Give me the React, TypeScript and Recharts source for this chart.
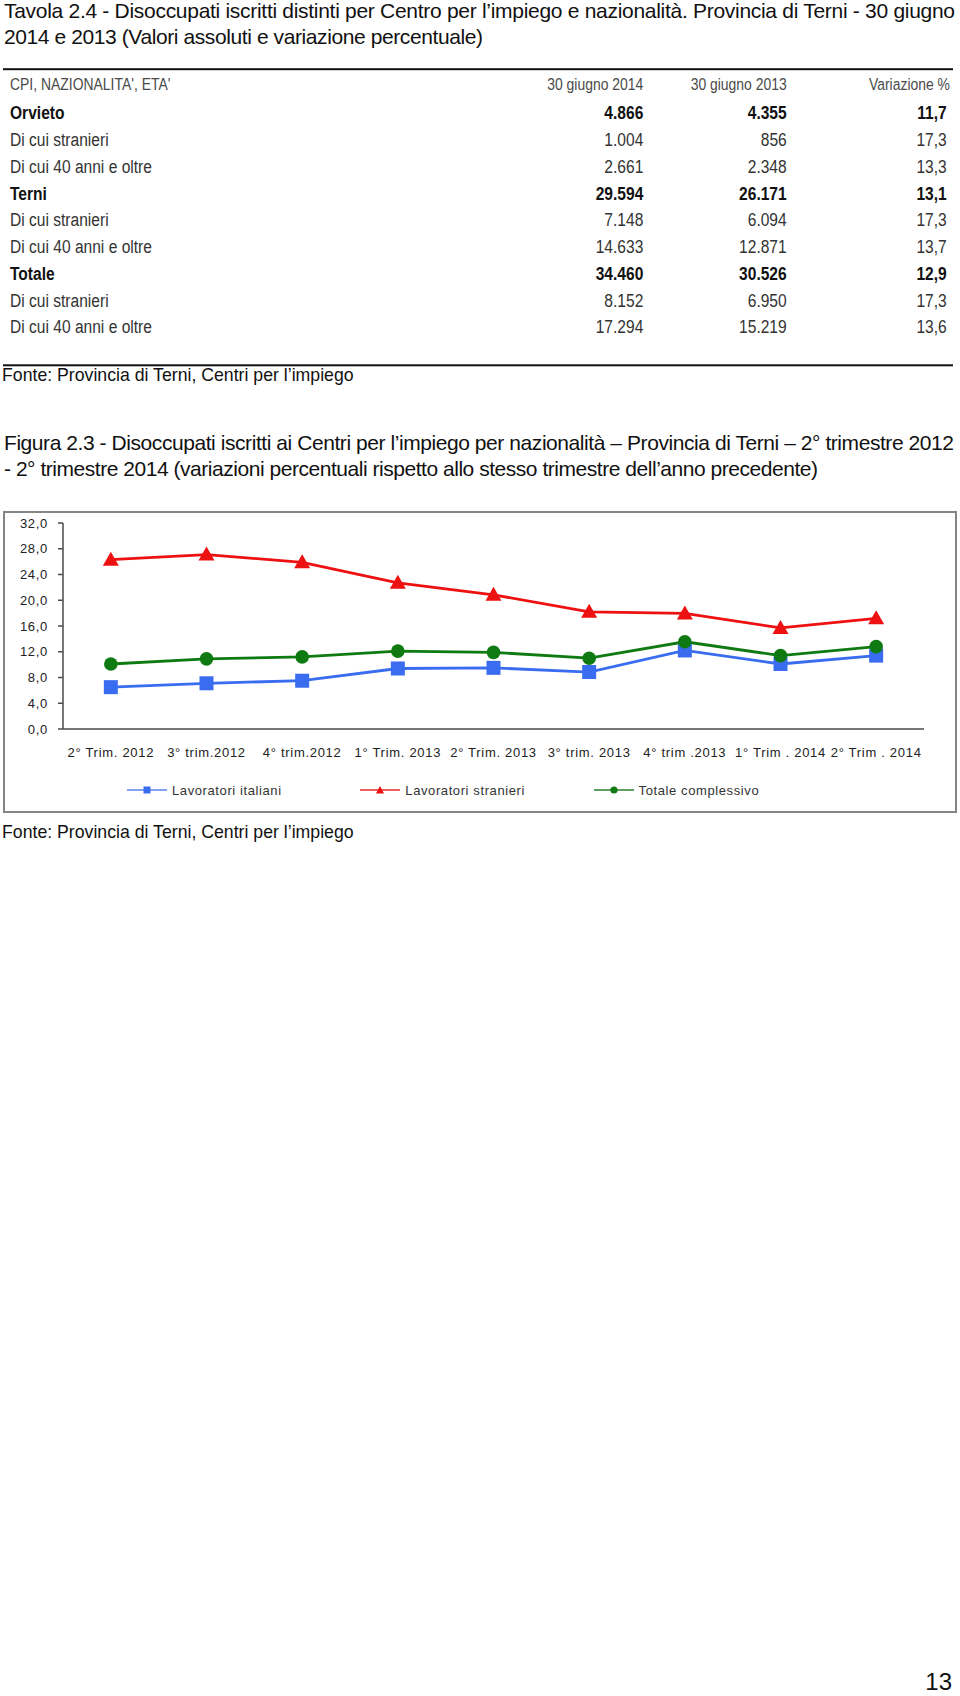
import React from 'react';
import { LineChart, Line, XAxis, YAxis, Legend } from 'recharts';

// ---------- Data ----------
const categories = [
  '2° Trim. 2012',
  '3° trim.2012',
  '4° trim.2012',
  '1° Trim. 2013',
  '2° Trim. 2013',
  '3° trim. 2013',
  '4° trim .2013',
  '1° Trim . 2014',
  '2° Trim . 2014',
];
const lavoratoriItaliani = [6.5, 7.1, 7.5, 9.4, 9.5, 8.85, 12.2, 10.1, 11.4];
const lavoratoriStranieri = [26.3, 27.1, 25.9, 22.7, 20.85, 18.2, 17.95, 15.7, 17.2];
const totaleComplessivo = [10.1, 10.9, 11.2, 12.1, 11.9, 11.0, 13.55, 11.4, 12.8];
const yTicks = [0, 4, 8, 12, 16, 20, 24, 28, 32];

// Table data
const tableHeader = ["CPI, NAZIONALITA', ETA'", '30 giugno 2014', '30 giugno 2013', 'Variazione %'];
const rowLabels = [
  'Orvieto',
  'Di cui stranieri',
  'Di cui 40 anni e oltre',
  'Terni',
  'Di cui stranieri',
  'Di cui 40 anni e oltre',
  'Totale',
  'Di cui stranieri',
  'Di cui 40 anni e oltre',
];
const rowBold = [true, false, false, true, false, false, true, false, false];
const values2014 = ['4.866', '1.004', '2.661', '29.594', '7.148', '14.633', '34.460', '8.152', '17.294'];
const values2013 = ['4.355', '856', '2.348', '26.171', '6.094', '12.871', '30.526', '6.950', '15.219'];
const variazione = ['11,7', '17,3', '13,3', '13,1', '17,3', '13,7', '12,9', '17,3', '13,6'];

const chartData = categories.map((c, i) => ({
  pos: i + 0.5,
  cat: c,
  italiani: lavoratoriItaliani[i],
  stranieri: lavoratoriStranieri[i],
  totale: totaleComplessivo[i],
}));
const boundaryTicks = [...categories.map((_, i) => i), categories.length];
const labelTicks = categories.map((_, i) => i + 0.5);

// ---------- Styles ----------
const BLUE = '#3a6cf0';
const RED = '#ee1111';
const GREEN = '#0f7a12';
const AXIS = '#4a4a4a';
const SANS = '"Liberation Sans", Arial, sans-serif';
const NARROW_SCALE = 0.82;

const SquareDot = (props: any) => {
  const { cx, cy, index } = props;
  if (cx == null || cy == null) return null;
  return <rect key={`sq-${index}`} x={cx - 7} y={cy - 7} width={14} height={14} fill={BLUE} />;
};
const TriangleDot = (props: any) => {
  const { cx, cy, index } = props;
  if (cx == null || cy == null) return null;
  return (
    <polygon
      key={`tr-${index}`}
      points={`${cx},${cy - 8} ${cx - 8},${cy + 6} ${cx + 8},${cy + 6}`}
      fill={RED}
    />
  );
};
const CircleDot = (props: any) => {
  const { cx, cy, index } = props;
  if (cx == null || cy == null) return null;
  return <circle key={`ci-${index}`} cx={cx} cy={cy} r={6.8} fill={GREEN} />;
};

const legendShapes: Record<string, string> = {
  italiani: 'square',
  stranieri: 'triangle',
  totale: 'circle',
};
const legendLineColors: Record<string, string> = {
  italiani: '#86a3f2',
  stranieri: '#f06060',
  totale: '#5f9f5f',
};

const renderLegend = (props: any) => {
  const payload = props.payload || [];
  return (
    <div style={{ position: 'relative', width: 954, height: 34 }}>
      {payload.map((entry: any, i: number) => {
        const key = entry.dataKey as string;
        const shape = legendShapes[key];
        const color = entry.color;
        return (
          <div
            key={key}
            style={{
              position: 'absolute',
              left: 124 + i * 233.3,
              top: 0,
              height: 34,
              display: 'flex',
              alignItems: 'center',
            }}
          >
            <svg width={40} height={12} style={{ display: 'block' }}>
              <line x1={0} y1={6} x2={40} y2={6} stroke={legendLineColors[key]} strokeWidth={2} />
              {shape === 'square' && <rect x={16.5} y={2.5} width={7} height={7} fill={color} />}
              {shape === 'triangle' && <polygon points="20,2 16,9.5 24,9.5" fill={color} />}
              {shape === 'circle' && <circle cx={20} cy={6} r={3.6} fill={color} />}
            </svg>
            <span
              style={{
                marginLeft: 5,
                fontFamily: SANS,
                fontSize: 13,
                letterSpacing: 0.6,
                color: '#333',
                whiteSpace: 'nowrap',
              }}
            >
              {entry.value}
            </span>
          </div>
        );
      })}
    </div>
  );
};

const rowBaseline = (i: number) => 119.3 + i * 26.75;

// condensed text helper (SVG text horizontally compressed)
const NText = ({ x, y, anchor, children }: any) => (
  <text
    transform={`translate(${x},${y}) scale(${NARROW_SCALE},1)`}
    textAnchor={anchor || 'start'}
  >
    {children}
  </text>
);

export default function App() {
  return (
    <div style={{ position: 'absolute', left: 0, top: 0, width: 960, height: 1696, background: '#fff' }}>
      {/* Page texts and table */}
      <svg width={960} height={1696} style={{ position: 'absolute', left: 0, top: 0 }}>
        <g fontFamily={SANS} fontSize={21} fill="#111">
          <text x={4} y={17.5} textLength={951} lengthAdjust="spacing">
            Tavola 2.4 - Disoccupati iscritti distinti per Centro per l’impiego e nazionalità. Provincia di Terni - 30 giugno
          </text>
          <text x={4} y={43.5} textLength={479} lengthAdjust="spacing">
            2014 e 2013 (Valori assoluti e variazione percentuale)
          </text>
          <text x={4} y={450} textLength={950} lengthAdjust="spacing">
            Figura 2.3 - Disoccupati iscritti ai Centri per l’impiego per nazionalità – Provincia di Terni – 2° trimestre 2012
          </text>
          <text x={4} y={476} textLength={814} lengthAdjust="spacing">
            - 2° trimestre 2014 (variazioni percentuali rispetto allo stesso trimestre dell’anno precedente)
          </text>
        </g>

        {/* Table rules */}
        <rect x={3} y={68.2} width={950} height={2} fill="#111" />
        <rect x={3} y={364.3} width={950} height={2} fill="#111" />

        {/* Table header */}
        <g fontFamily={SANS} fontSize={17} fill="#4a4a4a">
          <NText x={10} y={89.7}>{tableHeader[0]}</NText>
          <NText x={643.3} y={89.7} anchor="end">{tableHeader[1]}</NText>
          <NText x={786.7} y={89.7} anchor="end">{tableHeader[2]}</NText>
          <NText x={950} y={89.7} anchor="end">{tableHeader[3]}</NText>
        </g>

        {/* Table rows */}
        <g fontFamily={SANS} fontSize={19}>
          {rowLabels.map((label, i) => {
            const bold = rowBold[i];
            const fill = bold ? '#111' : '#333';
            const fw = bold ? 700 : 400;
            const y = rowBaseline(i);
            return (
              <g key={i} fill={fill} fontWeight={fw}>
                <NText x={10} y={y}>{label}</NText>
                <NText x={643.3} y={y} anchor="end">{values2014[i]}</NText>
                <NText x={786.7} y={y} anchor="end">{values2013[i]}</NText>
                <NText x={946.7} y={y} anchor="end">{variazione[i]}</NText>
              </g>
            );
          })}
        </g>

        {/* Sources */}
        <g fontFamily={SANS} fontSize={17.7} fill="#111">
          <text x={2} y={381}>Fonte: Provincia di Terni, Centri per l’impiego</text>
          <text x={2} y={838}>Fonte: Provincia di Terni, Centri per l’impiego</text>
        </g>

        {/* Page number */}
        <text x={952} y={1690} textAnchor="end" fontFamily={SANS} fontSize={24} fill="#111">
          13
        </text>
      </svg>

      {/* Chart */}
      <div style={{ position: 'absolute', left: 3, top: 511, width: 954, height: 301 }}>
        <LineChart
          width={954}
          height={301}
          data={chartData}
          margin={{ top: 12, right: 33, bottom: 5, left: 0 }}
        >
          <XAxis
            xAxisId="bounds"
            dataKey="pos"
            type="number"
            domain={[0, categories.length]}
            ticks={boundaryTicks}
            tickSize={5}
            tick={false}
            height={1}
            axisLine={{ stroke: AXIS, strokeWidth: 1.5 }}
            tickLine={{ stroke: AXIS, strokeWidth: 1.5 }}
          />
          <XAxis
            xAxisId="labels"
            dataKey="pos"
            type="number"
            domain={[0, categories.length]}
            ticks={labelTicks}
            interval={0}
            height={43}
            axisLine={false}
            tickLine={false}
            tickSize={8}
            tickMargin={10}
            tickFormatter={(v: number) => categories[Math.floor(v)]}
            tick={{ fontFamily: SANS, fontSize: 13, fill: '#222', letterSpacing: 0.7 }}
          />
          <YAxis
            type="number"
            domain={[0, 32]}
            ticks={yTicks}
            interval={0}
            width={60}
            tickSize={5}
            tickMargin={10}
            axisLine={{ stroke: AXIS, strokeWidth: 1.5 }}
            tickLine={{ stroke: AXIS, strokeWidth: 1.5 }}
            tickFormatter={(v: number) => v.toFixed(1).replace('.', ',')}
            tick={{ fontFamily: SANS, fontSize: 13, fill: '#222', letterSpacing: 0.7 }}
          />
          <Legend
            verticalAlign="bottom"
            wrapperStyle={{ left: 0, width: 954, bottom: 5 }}
            content={renderLegend}
          />
          <Line
            xAxisId="bounds"
            type="linear"
            dataKey="italiani"
            name="Lavoratori italiani"
            stroke={BLUE}
            strokeWidth={2.8}
            dot={SquareDot}
            activeDot={false}
            isAnimationActive={false}
          />
          <Line
            xAxisId="bounds"
            type="linear"
            dataKey="stranieri"
            name="Lavoratori stranieri"
            stroke={RED}
            strokeWidth={2.8}
            dot={TriangleDot}
            activeDot={false}
            isAnimationActive={false}
          />
          <Line
            xAxisId="bounds"
            type="linear"
            dataKey="totale"
            name="Totale complessivo"
            stroke={GREEN}
            strokeWidth={2.8}
            dot={CircleDot}
            activeDot={false}
            isAnimationActive={false}
          />
        </LineChart>
      </div>
      {/* Chart frame */}
      <div
        style={{
          position: 'absolute',
          left: 3,
          top: 511,
          width: 954,
          height: 302,
          boxSizing: 'border-box',
          border: '2px solid #858585',
          pointerEvents: 'none',
        }}
      />
    </div>
  );
}
